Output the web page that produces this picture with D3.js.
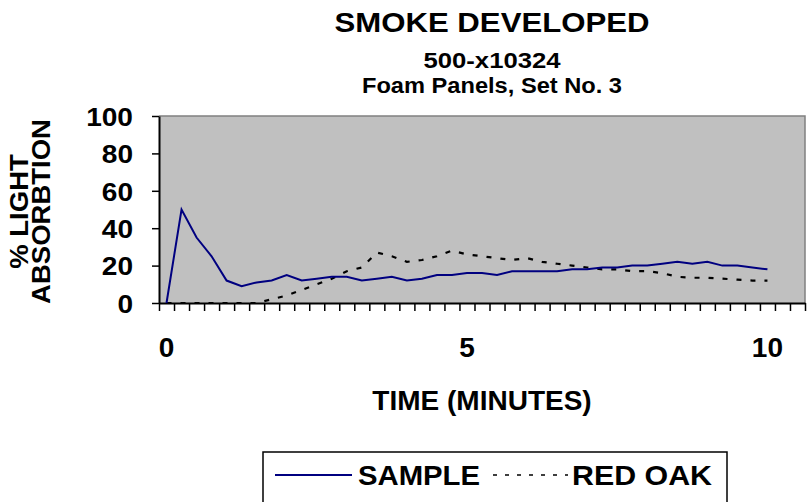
<!DOCTYPE html>
<html><head><meta charset="utf-8">
<script src="https://cdn.jsdelivr.net/npm/d3@7"></script>
<style>
body{margin:0;background:#fff}
svg{display:block}
text{font-family:"Liberation Sans",Arial,Helvetica,sans-serif;font-weight:bold;fill:#000}
</style>
</head><body>
<svg id="chart" width="808" height="502"></svg>
<script>
// ---- data ----
const times = [0,0.25,0.5,0.75,1,1.25,1.5,1.75,2,2.25,2.5,2.75,3,3.25,3.5,3.75,4,4.25,4.5,4.75,5,5.25,5.5,5.75,6,6.25,6.5,6.75,7,7.25,7.5,7.75,8,8.25,8.5,8.75,9,9.25,9.5,9.75,10,10.25,10.5];
const sample = [0,50,35,25,12,9,11,12,15,12,13,14,14,12,13,14,12,13,15,15,16,16,15,17,17,17,17,18,18,19,19,20,20,21,22,21,22,20,20,19,18];
const redOak = [0,0,0,0,0,0,0,2,4,7,10,13,17,19,27,25,22,23,25,28,26,25,24,23,24,22,21,20,19,18,18,17,17,16,14,13.5,13.5,13,12.5,12,12];
const yTicks = [0,20,40,60,80,100];
const xLabelTimes = [0,5,10];
const xTickLabels = ["0","5","10"];
const titleLines = ["SMOKE DEVELOPED","500-x10324","Foam Panels, Set No. 3"];
const seriesNames = ["SAMPLE","RED OAK"];
const yTitleLines = ["% LIGHT","ABSORBTION"];
const xTitle = "TIME (MINUTES)";

// ---- layout ----
const svg = d3.select("#chart");
const L = 159, R = 805, T = 116, B = 303;
const x = d3.scaleBand().domain(times).range([L, R]).paddingInner(0).paddingOuter(0);
const xc = t => x(t) + x.bandwidth() / 2;
const edges = d3.scaleLinear().domain([0, times.length]).range([L, R]);
const y = d3.scaleLinear().domain([0, 100]).range([B, T]);

function stretch(sel, f) {
  sel.each(function () {
    const w = this.getComputedTextLength();
    this.setAttribute("textLength", w * f);
    this.setAttribute("lengthAdjust", "spacingAndGlyphs");
  });
}

// plot area
svg.append("rect").attr("x", L).attr("y", T).attr("width", R - L).attr("height", B - T)
  .attr("fill", "#c0c0c0");
svg.append("path").attr("d", `M${L},${T}H${R}V${B}`).attr("fill", "none")
  .attr("stroke", "#808080").attr("stroke-width", 1.5);

// titles
const tCx = 492;
const tt = svg.append("g");
const t1 = tt.append("text").attr("x", tCx).attr("y", 32).attr("text-anchor", "middle")
  .attr("font-size", 28).text(titleLines[0]);
const t2 = tt.append("text").attr("x", tCx).attr("y", 68).attr("text-anchor", "middle")
  .attr("font-size", 22).text(titleLines[1]);
const t3 = tt.append("text").attr("x", tCx).attr("y", 93).attr("text-anchor", "middle")
  .attr("font-size", 22).text(titleLines[2]);
t1.attr("textLength", 315).attr("lengthAdjust", "spacingAndGlyphs");
t2.attr("textLength", 137).attr("lengthAdjust", "spacingAndGlyphs");
t3.attr("textLength", 260).attr("lengthAdjust", "spacingAndGlyphs");

// y axis
const gy = svg.append("g").attr("transform", `translate(${L},0)`)
  .call(d3.axisLeft(y).tickValues(yTicks).tickSize(7).tickPadding(19).tickSizeOuter(0));
gy.select(".domain").attr("stroke", "#000").attr("stroke-width", 2);
gy.selectAll(".tick line").attr("stroke", "#000").attr("stroke-width", 1.5);
gy.selectAll(".tick text").attr("font-size", 26).attr("font-family", null).attr("dy", "0.36em");
stretch(gy.selectAll(".tick text"), 1.08);

// x axis tick marks (between categories)
const gxe = svg.append("g").attr("transform", `translate(0,${B})`)
  .call(d3.axisBottom(edges).tickValues(d3.range(times.length + 1)).tickSize(8).tickFormat("").tickSizeOuter(0));
gxe.select(".domain").attr("stroke", "#000").attr("stroke-width", 2);
gxe.selectAll(".tick line").attr("stroke", "#000").attr("stroke-width", 1.5);

// x axis labels
const gxl = svg.append("g").attr("transform", `translate(0,${B})`)
  .call(d3.axisBottom(x).tickValues(xLabelTimes).tickSize(0).tickPadding(34)
    .tickFormat((d, i) => xTickLabels[i]));
gxl.select(".domain").remove();
gxl.selectAll(".tick text").attr("font-size", 28).attr("font-family", null);

// axis titles
svg.append("text").attr("x", (L + R) / 2).attr("y", 410).attr("text-anchor", "middle")
  .attr("font-size", 28).text(xTitle);
const yt = svg.append("g").attr("transform", `translate(0,${(T + B) / 2 + 2}) rotate(-90)`);
yt.append("text").attr("x", 0).attr("y", 28).attr("text-anchor", "middle")
  .attr("font-size", 25).text(yTitleLines[0]);
yt.append("text").attr("x", 0).attr("y", 50).attr("text-anchor", "middle")
  .attr("font-size", 25).text(yTitleLines[1]);
stretch(yt.selectAll("text"), 1.1);

// lines
const line = d3.line().x((d, i) => xc(times[i])).y(d => y(d));
svg.append("path").datum(redOak).attr("d", line).attr("fill", "none")
  .attr("stroke", "#000").attr("stroke-width", 2.2).attr("stroke-dasharray", "5,9");
svg.append("path").datum(sample).attr("d", line).attr("fill", "none")
  .attr("stroke", "#000080").attr("stroke-width", 2);

// legend
const lg = svg.append("g");
lg.append("rect").attr("x", 263).attr("y", 452).attr("width", 464).attr("height", 70)
  .attr("fill", "#fff").attr("stroke", "#000").attr("stroke-width", 1.5);
lg.append("line").attr("x1", 275).attr("x2", 352).attr("y1", 475).attr("y2", 475)
  .attr("stroke", "#000080").attr("stroke-width", 2);
lg.append("text").attr("x", 358).attr("y", 485).attr("font-size", 28).text(seriesNames[0])
  .attr("textLength", 122).attr("lengthAdjust", "spacingAndGlyphs");
lg.append("line").attr("x1", 493).attr("x2", 568).attr("y1", 475).attr("y2", 475)
  .attr("stroke", "#000").attr("stroke-width", 1.5).attr("stroke-dasharray", "4,8");
lg.append("text").attr("x", 572).attr("y", 485).attr("font-size", 28).text(seriesNames[1])
  .attr("textLength", 140).attr("lengthAdjust", "spacingAndGlyphs");
</script>
</body></html>
